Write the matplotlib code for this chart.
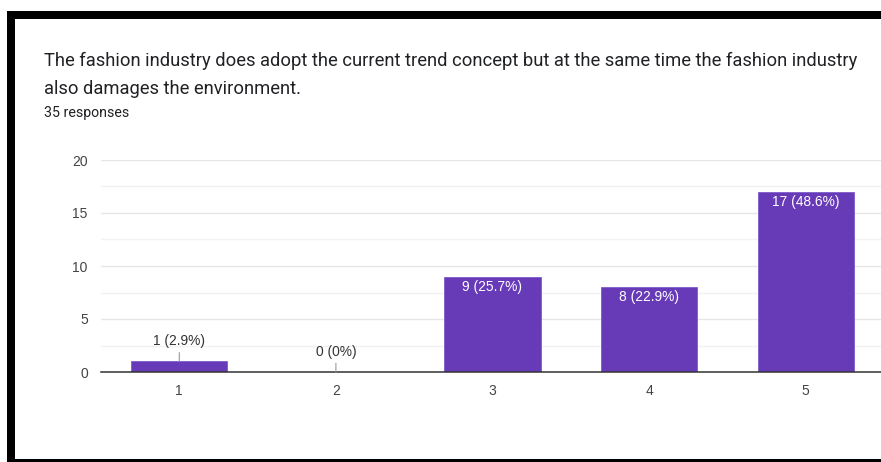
import matplotlib
matplotlib.use("Agg")
import matplotlib.pyplot as plt
from matplotlib.patches import Rectangle
from matplotlib.ticker import MultipleLocator

plt.rcParams['font.family'] = ['Roboto', 'DejaVu Sans']
CHART_FONT = ['Liberation Sans', 'DejaVu Sans']

# Survey data
title_lines = ["The fashion industry does adopt the current trend concept but at the same time the fashion industry",
               "also damages the environment."]
subtitle = "35 responses"
categories = ["1", "2", "3", "4", "5"]
counts = [1, 0, 9, 8, 17]
total_responses = 35

W, H = 881, 462
fig = plt.figure(figsize=(W / 100, H / 100), dpi=100)
fig.patch.set_facecolor("white")

# Black frame pieces (pixel coordinates, origin top-left)
def frame_rect(x0, y0, x1, y1):
    fig.add_artist(Rectangle((x0 / W, 1 - y1 / H), (x1 - x0) / W, (y1 - y0) / H,
                             transform=fig.transFigure, facecolor="black",
                             edgecolor="none", zorder=10))

frame_rect(8, 11, W, 19)     # top
frame_rect(7, 11, 15, H)     # left
frame_rect(7, 459, W, H)     # bottom

# Title and response count
for i, line in enumerate(title_lines):
    fig.text(44 / W, 1 - (61 + 28 * i) / H, line, ha="left", va="center",
             fontsize=13.2, color="#202124")
fig.text(44 / W, 1 - 113 / H, subtitle, ha="left", va="center", fontsize=10.2,
         color="#202124")

# Plot area
left_px, right_px, top_px, bottom_px = 101, 884, 160, 372
ax = fig.add_axes([left_px / W, 1 - bottom_px / H,
                   (right_px - left_px) / W, (bottom_px - top_px) / H])
ax.set_facecolor("white")

xpos = list(range(1, len(categories) + 1))
bar_color = "#673AB7"
ax.bar(xpos, counts, width=0.615, color=bar_color, edgecolor="#7e5ccb",
       linewidth=0.6, zorder=3)

ax.set_xlim(0.5, 5.5)
ax.set_ylim(0, 20)
ax.yaxis.set_major_locator(MultipleLocator(5))
ax.yaxis.set_minor_locator(MultipleLocator(2.5))
ax.set_xticks(xpos)
ax.set_xticklabels(categories)

ax.grid(axis="y", which="major", color="#e6e6e6", linewidth=1.0, zorder=0)
ax.grid(axis="y", which="minor", color="#f2f2f2", linewidth=1.0, zorder=0)
ax.grid(axis="x", visible=False)

for s in ["top", "right", "left"]:
    ax.spines[s].set_visible(False)
ax.spines["bottom"].set_color("#333333")
ax.spines["bottom"].set_linewidth(1.1)
ax.spines["bottom"].set_zorder(4)

ax.tick_params(axis="both", which="both", length=0, labelsize=10,
               labelcolor="#444444")
ax.tick_params(axis="y", pad=9.5)
ax.tick_params(axis="x", pad=8.5)
for lbl in ax.get_xticklabels() + ax.get_yticklabels():
    lbl.set_family(CHART_FONT)

# Value labels
for x, v in zip(xpos, counts):
    pct = 100 * v / total_responses
    pct_txt = "0" if v == 0 else f"{pct:.1f}"
    label = f"{v} ({pct_txt}%)"
    if v >= 3:
        ax.annotate(label, xy=(x, v), xytext=(0, -7.2), textcoords="offset points",
                    ha="center", va="center", fontsize=9.9, color="white",
                    family=CHART_FONT, zorder=5)
    else:
        ax.annotate(label, xy=(x, v), xytext=(0, 14.4), textcoords="offset points",
                    ha="center", va="center", fontsize=9.9, color="#333333",
                    family=CHART_FONT, zorder=5,
                    arrowprops=dict(arrowstyle="-", color="#999999", lw=0.8,
                                    shrinkA=1, shrinkB=0))

fig.savefig("out.png", dpi=100, facecolor="white")
